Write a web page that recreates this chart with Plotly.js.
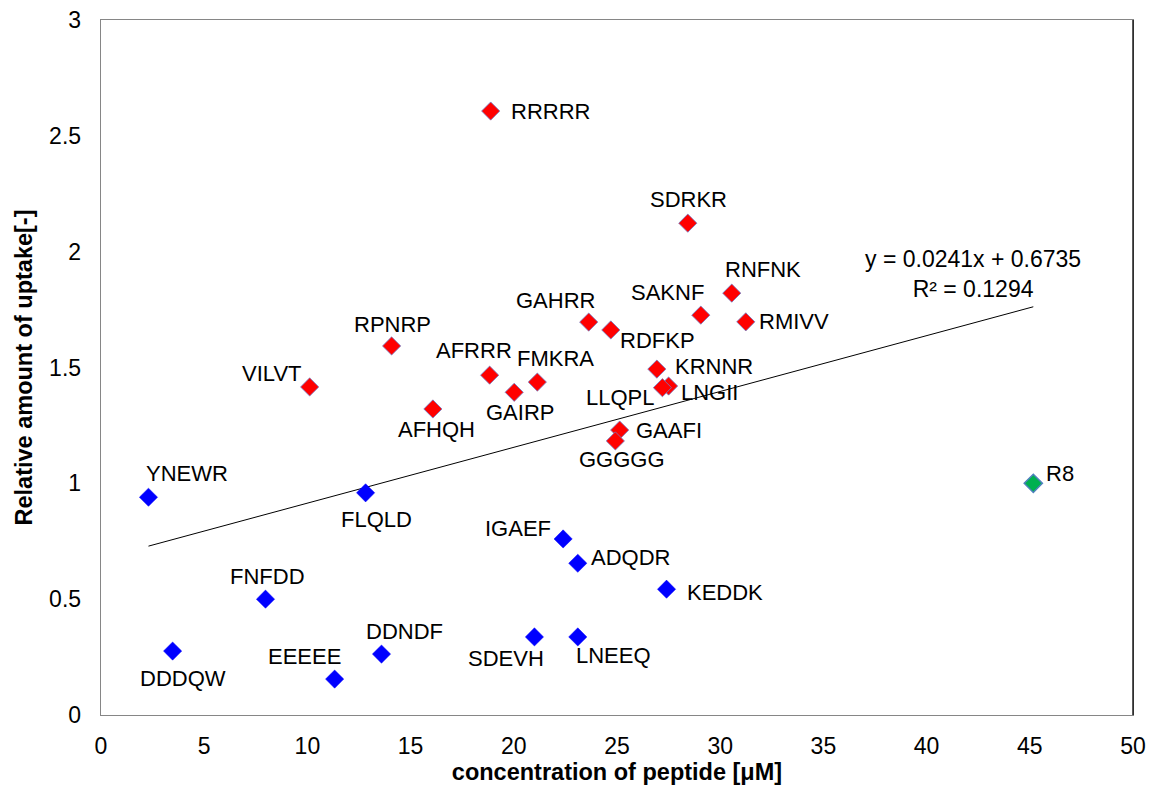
<!DOCTYPE html>
<html>
<head>
<meta charset="utf-8">
<script src="https://cdn.plot.ly/plotly-3.0.1.min.js"></script>
<style>html,body{margin:0;padding:0;background:#fff;}#chart{width:1151px;height:790px;}</style>
</head>
<body>
<div id="chart"></div>
<script>
// Peptides with high uptake (red)
const redNames = ["RRRRR","SDRKR","RNFNK","SAKNF","RMIVV","GAHRR","RDFKP","RPNRP","AFRRR","FMKRA","GAIRP","KRNNR","LNGII","LLQPL","VILVT","AFHQH","GAAFI","GGGGG"];
const redX = [18.88, 28.43, 30.56, 29.06, 31.24, 23.63, 24.70, 14.08, 18.83, 21.14, 20.02, 26.93, 27.50, 27.20, 10.11, 16.08, 25.13, 24.92];
const redY = [2.607, 2.123, 1.821, 1.726, 1.697, 1.696, 1.662, 1.593, 1.467, 1.437, 1.393, 1.493, 1.420, 1.413, 1.416, 1.321, 1.230, 1.183];

// Peptides with low uptake (blue)
const blueNames = ["YNEWR","FLQLD","FNFDD","DDDQW","EEEEE","DDNDF","SDEVH","LNEEQ","IGAEF","ADQDR","KEDDK"];
const blueX = [2.30, 12.82, 7.97, 3.47, 11.32, 13.59, 21.00, 23.10, 22.39, 23.10, 27.40];
const blueY = [0.940, 0.959, 0.500, 0.276, 0.155, 0.263, 0.337, 0.337, 0.760, 0.655, 0.543];

// Reference R8 (green)
const refNames = ["R8"];
const refX = [45.17];
const refY = [1.000];

// Linear trendline as reported on the chart
const trendSlope = 0.0241;
const trendIntercept = 0.6735;
const trendR2 = 0.1294;

const xTicks = [0,5,10,15,20,25,30,35,40,45,50];
const yTicks = [0,0.5,1,1.5,2,2.5,3];

// label placement offsets (pixels, dx right, dy down) – layout only
const labelOffsets = {
  RRRRR:[60,0], SDRKR:[1,-24], RNFNK:[31,-24], SAKNF:[-33,-23], RMIVV:[48,0],
  GAHRR:[-33,-22], RDFKP:[47,11], RPNRP:[1,-21], AFRRR:[-16,-25], FMKRA:[18,-24],
  GAIRP:[6,20], KRNNR:[57,-3], LNGII:[41,6], LLQPL:[-42,10], VILVT:[-38,-13],
  AFHQH:[4,21], GAAFI:[49,0], GGGGG:[7,19],
  YNEWR:[39,-24], FLQLD:[11,27], FNFDD:[2,-23], DDDQW:[10,27], EEEEE:[-30,-23],
  DDNDF:[23,-23], SDEVH:[-28,22], LNEEQ:[36,19], IGAEF:[-45,-10], ADQDR:[53,-6],
  KEDDK:[58,3], R8:[27,-10]
};

const font = "Liberation Sans, Arial, sans-serif";
const allX = redX.concat(blueX, refX);
const tMin = Math.min(...allX), tMax = Math.max(...allX);
const trendX = [tMin, tMax];
const trendY = trendX.map(v => trendSlope * v + trendIntercept);

const traces = [
  {x: trendX, y: trendY, mode: 'lines', line: {color: '#000000', width: 1}, hoverinfo: 'skip'},
  {x: redX, y: redY, text: redNames, mode: 'markers', marker: {symbol: 'diamond', size: 14, color: '#ff0000', line: {color: '#6f7fc8', width: 0.8}}},
  {x: blueX, y: blueY, text: blueNames, mode: 'markers', marker: {symbol: 'diamond', size: 14, color: '#0000ff', line: {color: '#0000ff', width: 0.5}}},
  {x: refX, y: refY, text: refNames, mode: 'markers', marker: {symbol: 'diamond', size: 14, color: '#00b050', line: {color: '#4f81bd', width: 1.5}}}
];

const annotations = [];
function addLabels(names, xs, ys) {
  names.forEach((n, i) => {
    const o = labelOffsets[n] || [0, 0];
    annotations.push({x: xs[i], y: ys[i], xref: 'x', yref: 'y', text: n, showarrow: false,
      xanchor: 'center', yanchor: 'middle', xshift: o[0], yshift: -o[1],
      font: {family: font, size: 22, color: '#000'}});
  });
}
addLabels(redNames, redX, redY);
addLabels(blueNames, blueX, blueY);
addLabels(refNames, refX, refY);

annotations.push({xref: 'paper', yref: 'paper', x: 0.845, y: 0.635, xanchor: 'center', yanchor: 'middle', showarrow: false,
  text: 'y = ' + trendSlope.toFixed(4) + 'x + ' + trendIntercept.toFixed(4) + '<br>R² = ' + trendR2.toFixed(4),
  align: 'center', font: {family: font, size: 23, color: '#000'}});

const layout = {
  width: 1151, height: 790,
  margin: {l: 101, r: 18, t: 20, b: 75},
  paper_bgcolor: '#fff', plot_bgcolor: '#fff',
  showlegend: false,
  font: {family: font, color: '#000'},
  xaxis: {range: [0, 50], tickvals: xTicks, ticktext: xTicks.map(String), showgrid: false, zeroline: false,
    showline: true, linecolor: '#868686', linewidth: 1.3, mirror: true, ticks: '', ticklabelstandoff: 10,
    tickfont: {family: font, size: 23, color: '#000'},
    title: {text: '<b>concentration of peptide [μM]</b>', font: {family: font, size: 23.5, color: '#000'}, standoff: 4}},
  yaxis: {range: [0, 3], tickvals: yTicks, ticktext: yTicks.map(String), showgrid: false, zeroline: false,
    showline: true, linecolor: '#868686', linewidth: 1.3, mirror: true, ticks: '', ticklabelstandoff: 14,
    tickfont: {family: font, size: 23, color: '#000'},
    title: {text: '<b>Relative amount of uptake[-]</b>', font: {family: font, size: 23.5, color: '#000'}, standoff: 10}},
  shapes: [{type: 'line', xref: 'paper', yref: 'paper', x0: 1, x1: 1, y0: 0, y1: 1, line: {color: '#000', width: 1.3}}],
  annotations: annotations
};

Plotly.newPlot('chart', traces, layout, {displayModeBar: false, staticPlot: true});
</script>
</body>
</html>
